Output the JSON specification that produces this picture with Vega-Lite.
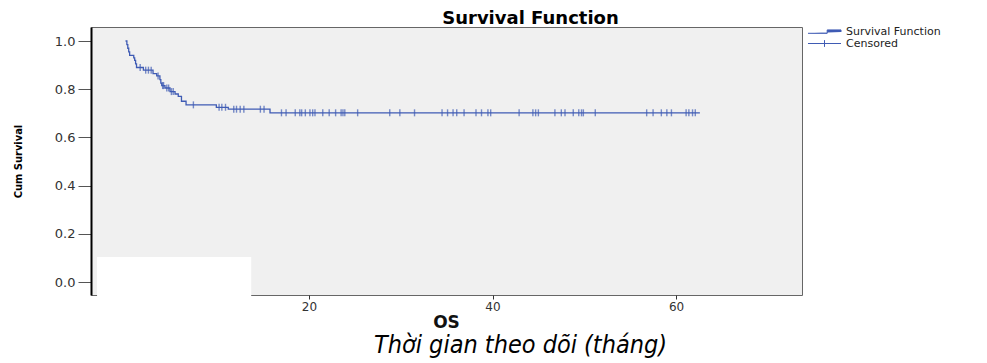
{
  "$schema": "https://vega.github.io/schema/vega-lite/v6.json",
  "width": 711,
  "height": 268,
  "autosize": "none",
  "padding": {"left": 91, "top": 27, "right": 185, "bottom": 68},
  "background": "white",
  "title": {
    "text": "Thời gian theo dõi (tháng)",
    "orient": "bottom",
    "anchor": "middle",
    "frame": "group",
    "dx": 74,
    "offset": 3,
    "font": "DejaVu Sans Condensed, DejaVu Sans",
    "fontStyle": "italic",
    "fontWeight": "normal",
    "fontSize": 25,
    "color": "#000000"
  },
  "config": {
    "view": {"fill": "#f0f0f0", "stroke": "#666666", "strokeWidth": 1}
  },
  "datasets": {
    "curve": [
      {"t": 0, "s": 1.0},
      {"t": 0.15, "s": 0.985},
      {"t": 0.25, "s": 0.97},
      {"t": 0.35, "s": 0.955},
      {"t": 0.45, "s": 0.94},
      {"t": 0.9, "s": 0.93},
      {"t": 1.0, "s": 0.92},
      {"t": 1.1, "s": 0.905},
      {"t": 1.2, "s": 0.89},
      {"t": 1.95, "s": 0.879},
      {"t": 3.0, "s": 0.865},
      {"t": 3.4, "s": 0.855},
      {"t": 3.75, "s": 0.84},
      {"t": 3.85, "s": 0.825},
      {"t": 3.95, "s": 0.815},
      {"t": 4.3, "s": 0.805},
      {"t": 4.85, "s": 0.79},
      {"t": 5.4, "s": 0.78},
      {"t": 5.75, "s": 0.77},
      {"t": 6.1, "s": 0.75},
      {"t": 6.6, "s": 0.735},
      {"t": 9.9, "s": 0.725},
      {"t": 11.2, "s": 0.717},
      {"t": 15.75, "s": 0.702},
      {"t": 62.6, "s": 0.702}
    ],
    "censored": [
      {"t": 1.6, "s": 0.89},
      {"t": 2.2, "s": 0.879},
      {"t": 2.5, "s": 0.879},
      {"t": 2.8, "s": 0.879},
      {"t": 3.55, "s": 0.855},
      {"t": 4.05, "s": 0.815},
      {"t": 4.15, "s": 0.815},
      {"t": 4.5, "s": 0.805},
      {"t": 4.7, "s": 0.805},
      {"t": 5.0, "s": 0.79},
      {"t": 5.2, "s": 0.79},
      {"t": 7.4, "s": 0.735},
      {"t": 10.2, "s": 0.725},
      {"t": 10.5, "s": 0.725},
      {"t": 10.9, "s": 0.725},
      {"t": 11.8, "s": 0.717},
      {"t": 12.1, "s": 0.717},
      {"t": 12.5, "s": 0.717},
      {"t": 12.9, "s": 0.717},
      {"t": 14.7, "s": 0.717},
      {"t": 15.1, "s": 0.717},
      {"t": 17.0, "s": 0.702},
      {"t": 17.5, "s": 0.702},
      {"t": 18.5, "s": 0.702},
      {"t": 19.0, "s": 0.702},
      {"t": 19.2, "s": 0.702},
      {"t": 19.6, "s": 0.702},
      {"t": 20.1, "s": 0.702},
      {"t": 20.4, "s": 0.702},
      {"t": 20.65, "s": 0.702},
      {"t": 21.5, "s": 0.702},
      {"t": 22.2, "s": 0.702},
      {"t": 22.9, "s": 0.702},
      {"t": 23.5, "s": 0.702},
      {"t": 23.7, "s": 0.702},
      {"t": 23.9, "s": 0.702},
      {"t": 25.3, "s": 0.702},
      {"t": 28.8, "s": 0.702},
      {"t": 29.9, "s": 0.702},
      {"t": 31.5, "s": 0.702},
      {"t": 34.5, "s": 0.702},
      {"t": 35.1, "s": 0.702},
      {"t": 35.7, "s": 0.702},
      {"t": 36.1, "s": 0.702},
      {"t": 36.9, "s": 0.702},
      {"t": 38.2, "s": 0.702},
      {"t": 38.8, "s": 0.702},
      {"t": 39.5, "s": 0.702},
      {"t": 39.8, "s": 0.702},
      {"t": 42.9, "s": 0.702},
      {"t": 44.4, "s": 0.702},
      {"t": 44.7, "s": 0.702},
      {"t": 45.0, "s": 0.702},
      {"t": 46.8, "s": 0.702},
      {"t": 47.5, "s": 0.702},
      {"t": 47.9, "s": 0.702},
      {"t": 48.8, "s": 0.702},
      {"t": 49.4, "s": 0.702},
      {"t": 49.7, "s": 0.702},
      {"t": 49.9, "s": 0.702},
      {"t": 51.2, "s": 0.702},
      {"t": 56.8, "s": 0.702},
      {"t": 57.5, "s": 0.702},
      {"t": 58.4, "s": 0.702},
      {"t": 59.0, "s": 0.702},
      {"t": 59.5, "s": 0.702},
      {"t": 61.1, "s": 0.702},
      {"t": 61.4, "s": 0.702},
      {"t": 61.8, "s": 0.702},
      {"t": 62.1, "s": 0.702}
    ],
    "patch": [{"t": -3.1, "t2": 13.7, "s": -0.14, "s2": 0.104}]
  },
  "encoding": {
    "y": {
      "field": "s", "type": "quantitative",
      "scale": {"domain": [-0.0539, 1.0581], "nice": false, "zero": false},
      "axis": {
        "title": "Cum Survival", "values": [0, 0.2, 0.4, 0.6, 0.8, 1.0], "format": ".1f",
        "labels": true, "ticks": true,
        "domain": true, "domainColor": "#000000", "domainWidth": 2, "grid": false,
        "tickSize": 13, "tickColor": "#555555", "tickWidth": 1,
        "labelFont": "DejaVu Sans", "labelFontSize": 13, "labelColor": "#333333", "labelPadding": 3,
        "titleFont": "DejaVu Sans Condensed, DejaVu Sans", "titleFontSize": 11, "titleFontWeight": "bold", "titleColor": "#000000",
        "titleX": -68, "titleY": 134, "titleAngle": 270, "titleBaseline": "bottom", "titleAlign": "center"
      }
    }
  },
  "resolve": {"axis": {"x": "independent"}},
  "layer": [
    {
      "data": {"name": "patch"},
      "mark": {"type": "rect", "fill": "#ffffff", "clip": false},
      "encoding": {
        "x": {"field": "t", "type": "quantitative", "scale": {"domain": [-3.76, 73.73], "nice": false, "zero": false}, "axis": null},
        "x2": {"field": "t2"},
        "y2": {"field": "s2"}
      }
    },
    {
      "data": {"name": "curve"},
      "mark": {"type": "line", "interpolate": "step-after", "strokeWidth": 1.3, "clip": false},
      "encoding": {
        "x": {
          "field": "t", "type": "quantitative",
          "scale": {"domain": [-3.76, 73.73], "nice": false, "zero": false},
          "axis": {
            "orient": "bottom", "title": "OS", "values": [20, 40, 60], "format": "d",
            "domain": false, "grid": false, "tickSize": 4, "tickColor": "#333333", "tickWidth": 1,
            "labelFont": "DejaVu Sans", "labelFontSize": 12, "labelColor": "#333333", "labelPadding": 2,
            "titleFont": "DejaVu Sans", "titleFontSize": 17, "titleFontWeight": "bold", "titleColor": "#111111",
            "titleX": 355, "titleY": 32, "titleBaseline": "alphabetic"
          }
        },
        "color": {
          "datum": "Survival Function",
          "scale": {"domain": ["Survival Function", "Censored"], "range": ["#3f5bb4", "#3f5bb4"]},
          "legend": {
            "title": null, "orient": "none", "legendX": 728, "legendY": -1,
            "padding": 0, "symbolSize": 81, "labelOffset": 16, "rowPadding": 0,
            "labelFont": "DejaVu Sans", "labelFontSize": 11, "labelColor": "#222222",
            "symbolType": "stroke",
            "encode": {
              "symbols": {
                "update": {
                  "shape": {"signal": "datum.value === 'Censored' ? 'M-3.67,0H3.67M0,-0.75V0.75' : 'M-3.67,0.4H0.6V-0.35H3.67V0.1'"},
                  "stroke": {"value": "#3f5bb4"},
                  "fill": {"value": "transparent"},
                  "strokeWidth": {"value": 1}
                }
              }
            }
          }
        }
      }
    },
    {
      "data": {"name": "censored"},
      "mark": {"type": "tick", "orient": "vertical", "size": 7, "thickness": 1.4, "clip": false},
      "encoding": {
        "x": {
          "field": "t", "type": "quantitative",
          "scale": {"domain": [-3.76, 73.73], "nice": false, "zero": false},
          "axis": {
            "orient": "top", "title": "Survival Function", "domain": false, "ticks": false, "labels": false, "grid": false,
            "titleFont": "DejaVu Sans", "titleFontSize": 18, "titleFontWeight": "bold", "titleColor": "#000000",
            "titleX": 439, "titleY": -4, "titleBaseline": "alphabetic"
          }
        },
        "color": {"datum": "Censored"}
      }
    }
  ]
}
